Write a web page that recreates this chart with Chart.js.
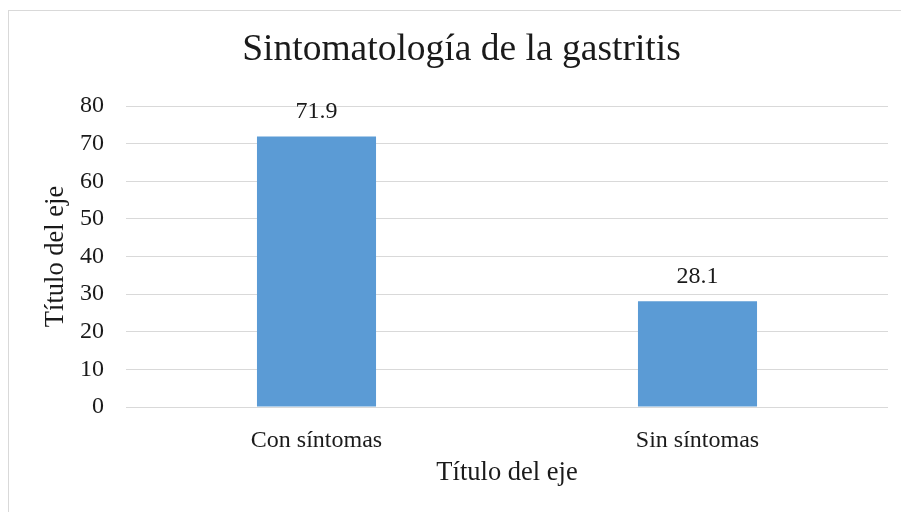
<!DOCTYPE html>
<html>
<head>
<meta charset="utf-8">
<script src="https://cdn.jsdelivr.net/npm/chart.js@4.4.1/dist/chart.umd.min.js"></script>
<style>
  html, body { margin: 0; padding: 0; background: #fff; overflow: hidden; }
  #wrap { position: relative; width: 901px; height: 512px; }
  #chart { position: absolute; left: 0; top: 0; }
  #frame {
    position: absolute; left: 8px; top: 10px; width: 1000px; height: 1000px;
    border: 1px solid #d9d9d9; pointer-events: none;
  }
</style>
</head>
<body>
<div id="wrap">
  <canvas id="chart" width="901" height="512"></canvas>
  <div id="frame"></div>
</div>
<script>
const TITLE = "Sintomatología de la gastritis";
const AXIS_TITLE = "Título del eje";
const CATEGORIES = ["Con síntomas", "Sin síntomas"];
const VALUES = [71.9, 28.1];
const Y_MIN = 0;
const Y_MAX = 80;
const Y_STEP = 10;

const FONT = "'Liberation Serif', 'Times New Roman', serif";
const TEXT = "#1a1a1a";

// draws the value above each bar
const valueLabels = {
  id: "valueLabels",
  afterDatasetsDraw(chart) {
    const ctx = chart.ctx;
    const meta = chart.getDatasetMeta(0);
    ctx.save();
    ctx.font = "24px " + FONT;
    ctx.fillStyle = TEXT;
    ctx.textAlign = "center";
    ctx.textBaseline = "alphabetic";
    meta.data.forEach((bar, i) => {
      ctx.fillText(VALUES[i].toFixed(1), bar.x, bar.y - 18);
    });
    ctx.restore();
  },
};

function mount() {
  const ctx = document.getElementById("chart").getContext("2d");

  const options = {
    responsive: false,
    animation: false,
    layout: { padding: { left: 35, top: 0, right: 13, bottom: 0 } },
    scales: {
      x: {
        grid: { display: false },
        border: { display: false },
        ticks: {
          color: TEXT,
          padding: 11,
          font: { family: FONT, size: 24 },
        },
        title: {
          display: true,
          text: AXIS_TITLE,
          color: TEXT,
          padding: { top: 0, bottom: 23 },
          font: { family: FONT, size: 26.5 },
        },
        afterFit(scale) { scale.height = 105; },
      },
      y: {
        min: Y_MIN,
        max: Y_MAX,
        grid: { color: "#d9d9d9", lineWidth: 1, drawTicks: false },
        border: { display: false },
        ticks: {
          stepSize: Y_STEP,
          color: TEXT,
          padding: 22,
          font: { family: FONT, size: 24 },
        },
        title: {
          display: true,
          text: AXIS_TITLE,
          color: TEXT,
          padding: { top: 5, bottom: 0 },
          font: { family: FONT, size: 26.5 },
        },
        afterFit(scale) { scale.width = 91; },
      },
    },
    plugins: {
      legend: { display: false },
      tooltip: { enabled: false },
      title: {
        display: true,
        text: TITLE,
        color: TEXT,
        padding: { top: 27.8, bottom: 33.2 },
        font: { family: FONT, size: 37.5, weight: "normal" },
      },
    },
  };

  return new Chart(ctx, {
    type: "bar",
    data: {
      labels: CATEGORIES,
      datasets: [{
        data: VALUES,
        backgroundColor: "#5b9bd5",
        categoryPercentage: 1,
        barPercentage: 0.3125,
      }],
    },
    options: options,
    plugins: [valueLabels],
  });
}

document.addEventListener("DOMContentLoaded", () => mount());
</script>
</body>
</html>
